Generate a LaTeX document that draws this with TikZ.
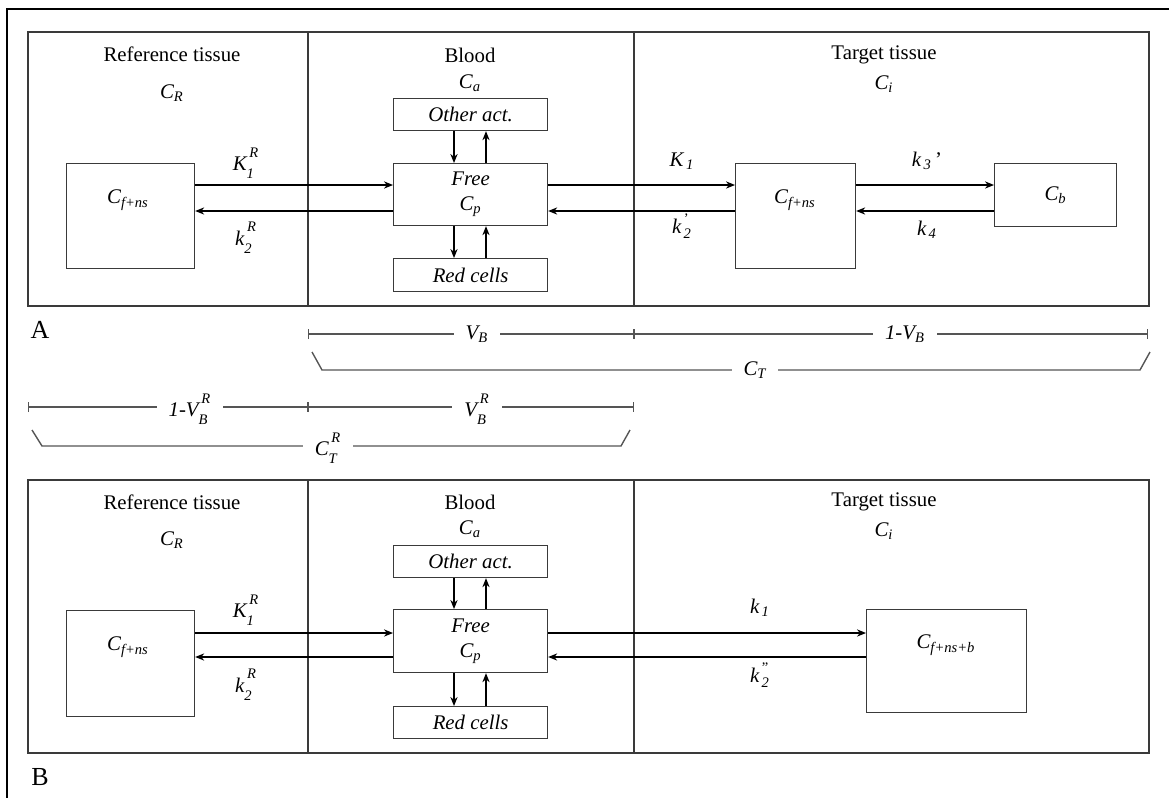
\documentclass[tikz,border=0pt]{standalone}
\usepackage{amsmath}
\usepackage{fontspec}
\setmainfont{Liberation Serif}
\usetikzlibrary{arrows.meta,positioning}
\definecolor{panelgray}{HTML}{3A3A3A}
\definecolor{dimgray}{HTML}{555555}
\newcommand{\iv}[1]{\textit{#1}}
\newcommand{\hisc}[1]{\text{\raisebox{2.2pt}{\itshape #1}}}
\newcommand{\losc}[1]{\text{\raisebox{-1.6pt}{\itshape #1}}}

\begin{document}
\begin{tikzpicture}[x=0.5pt,y=-0.5pt,
  every node/.style={font=\fontsize{10.4}{12.5}\selectfont, inner sep=0pt},
  box/.style={draw=panelgray, line width=0.6pt, anchor=north west},
  arr/.style={-{Stealth[length=4.5pt,width=3.6pt]}, line width=0.6pt},
  dimline/.style={draw=dimgray, line width=0.7pt},
  tick/.style={{Bar[width=5pt]}-{Bar[width=5pt]}},
  tag/.style={fill=white, inner xsep=6pt, inner ysep=1pt},
  panelname/.style={font=\fontsize{13}{15}\selectfont}]
  \useasboundingbox (0,0) rectangle (1169,798);

  % outer frame (cut at right and bottom)
  \draw[line width=1.3pt] (7,810) -- (7,9) -- (1180,9);

  % ---------------- A ----------------
  \draw[panelgray, line width=0.6pt] (28,32) rectangle (1149,306);
  \draw[panelgray, line width=0.6pt] (308,32) -- (308,306);
  \draw[panelgray, line width=0.6pt] (634,32) -- (634,306);
  \node (refA) at (172,54) {Reference tissue};
  \node (crA) at (172,93) {$\iv{C}_{\iv{R}}$};
  \node (bloodA) at (470,55) {Blood};
  \node (caA) at (470,83) {$\iv{C}_{\iv{a}}$};
  \node (targetA) at (884,55) {Target tissue};
  \node (ciA) at (884,84) {$\iv{C}_{\iv{i}}$};

  \node[box, minimum width=64pt, minimum height=52.5pt] (rbA) at (66,163) {};
  \node (rbAtxt) at (128,200) {$\iv{C}_{\iv{f+ns}}$};
  \node[box, minimum width=77pt, minimum height=16pt] (otherA) at (393,98) {\iv{Other act.}};
  \node[box, minimum width=77pt, minimum height=31pt, align=center] (freeA) at (393,163) {\iv{Free}\\ $\iv{C}_{\iv{p}}$};
  \node[box, minimum width=77pt, minimum height=16.5pt] (redA) at (393,258) {\iv{Red cells}};
  \node[box, minimum width=60pt, minimum height=52.5pt] (tbA) at (735,163) {};
  \node (tbAtxt) at (795,200) {$\iv{C}_{\iv{f+ns}}$};
  \node[box, minimum width=61pt, minimum height=31.5pt] (cbA) at (994,163) {$\iv{C}_{\iv{b}}$};

  \coordinate (inA) at (0,185); \coordinate (outA) at (0,211);
  \coordinate (xdn) at (454,0); \coordinate (xup) at (486,0);
  \draw[arr] (rbA.east |- inA) -- (freeA.west |- inA);
  \draw[arr] (freeA.west |- outA) -- (rbA.east |- outA);
  \draw[arr] (freeA.east |- inA) -- (tbA.west |- inA);
  \draw[arr] (tbA.west |- outA) -- (freeA.east |- outA);
  \draw[arr] (tbA.east |- inA) -- (cbA.west |- inA);
  \draw[arr] (cbA.west |- outA) -- (tbA.east |- outA);
  \draw[arr] (otherA.south -| xdn) -- (freeA.north -| xdn);
  \draw[arr] (freeA.north -| xup) -- (otherA.south -| xup);
  \draw[arr] (freeA.south -| xdn) -- (redA.north -| xdn);
  \draw[arr] (redA.north -| xup) -- (freeA.south -| xup);
  \node (k1RA) at (246,163) {$\iv{K}_{\losc{1}}^{\,\hisc{R}}$};
  \node (k2RA) at (246,238) {$\iv{k}_{\losc{2}}^{\,\hisc{R}}$};
  \node (k1A) at (682,161) {$\iv{K}_{\iv{\,1}}$};
  \node (k2A) at (682,226) {$\iv{k}_{\iv{\,2}}^{\,\textup{'}}$};
  \node (k3A) at (927,161) {$\iv{k}_{\iv{\,3}}\,\textup{'}$};
  \node (k4A) at (927,230) {$\iv{k}_{\iv{\,4}}$};
  \node[panelname] (labA) at (40,330) {A};

  % ---------------- volume fractions ----------------
  \coordinate (v1) at (308,334); \coordinate (v2) at (634,334); \coordinate (v3) at (1148,334);
  \draw[dimline, tick] (v1) -- (v2);
  \draw[dimline, tick] (v2) -- (v3);
  \node[tag] (vbA) at (477,334) {$\iv{V}_{\iv{B}}$};
  \node[tag] (ivbA) at (905,334) {$\iv{1-V}_{\iv{B}}$};
  \draw[dimline] (312,352) -- (322,370) -- (1140,370) -- (1150,352);
  \node[tag] (ctA) at (755,370) {$\iv{C}_{\iv{T}}$};

  \coordinate (w1) at (28,407); \coordinate (w2) at (308,407); \coordinate (w3) at (634,407);
  \draw[dimline, tick] (w1) -- (w2);
  \draw[dimline, tick] (w2) -- (w3);
  \node[tag] (ivbR) at (190,409) {$\iv{1-V}_{\losc{B}}^{\,\hisc{R}}$};
  \node[tag] (vbR) at (477,409) {$\iv{V}_{\losc{B}}^{\,\hisc{R}}$};
  \draw[dimline] (32,430) -- (42,446) -- (621,446) -- (630,430);
  \node[tag] (ctR) at (328,448) {$\iv{C}_{\losc{T}}^{\,\hisc{R}}$};

  % ---------------- B ----------------
  \draw[panelgray, line width=0.6pt] (28,480) rectangle (1149,753);
  \draw[panelgray, line width=0.6pt] (308,480) -- (308,753);
  \draw[panelgray, line width=0.6pt] (634,480) -- (634,753);
  \node (refB) at (172,502) {Reference tissue};
  \node (crB) at (172,540) {$\iv{C}_{\iv{R}}$};
  \node (bloodB) at (470,502) {Blood};
  \node (caB) at (470,529) {$\iv{C}_{\iv{a}}$};
  \node (targetB) at (884,502) {Target tissue};
  \node (ciB) at (884,531) {$\iv{C}_{\iv{i}}$};

  \node[box, minimum width=64pt, minimum height=53pt] (rbB) at (66,610) {};
  \node (rbBtxt) at (128,647) {$\iv{C}_{\iv{f+ns}}$};
  \node[box, minimum width=77pt, minimum height=16pt] (otherB) at (393,545) {\iv{Other act.}};
  \node[box, minimum width=77pt, minimum height=31.5pt, align=center] (freeB) at (393,609) {\iv{Free}\\ $\iv{C}_{\iv{p}}$};
  \node[box, minimum width=77pt, minimum height=16pt] (redB) at (393,706) {\iv{Red cells}};
  \node[box, minimum width=80pt, minimum height=51.5pt] (tbB) at (866,609) {};
  \node (tbBtxt) at (946,645) {$\iv{C}_{\iv{f+ns+b}}$};

  \coordinate (inB) at (0,633); \coordinate (outB) at (0,657);
  \draw[arr] (rbB.east |- inB) -- (freeB.west |- inB);
  \draw[arr] (freeB.west |- outB) -- (rbB.east |- outB);
  \draw[arr] (freeB.east |- inB) -- (tbB.west |- inB);
  \draw[arr] (tbB.west |- outB) -- (freeB.east |- outB);
  \draw[arr] (otherB.south -| xdn) -- (freeB.north -| xdn);
  \draw[arr] (freeB.north -| xup) -- (otherB.south -| xup);
  \draw[arr] (freeB.south -| xdn) -- (redB.north -| xdn);
  \draw[arr] (redB.north -| xup) -- (freeB.south -| xup);
  \node (k1RB) at (246,610) {$\iv{K}_{\losc{1}}^{\,\hisc{R}}$};
  \node (k2RB) at (246,685) {$\iv{k}_{\losc{2}}^{\,\hisc{R}}$};
  \node (k1B) at (760,608) {$\iv{k}_{\iv{\,1}}$};
  \node (k2B) at (760,675) {$\iv{k}_{\iv{\,2}}^{\,\textup{"}}$};
  \node[panelname] (labB) at (40,777) {B};
\end{tikzpicture}
\end{document}
